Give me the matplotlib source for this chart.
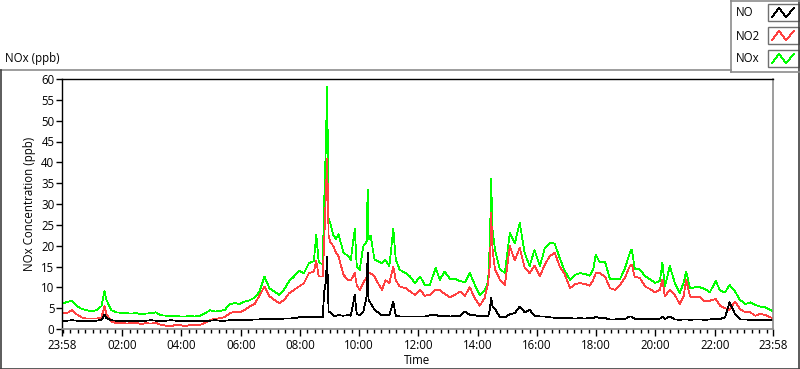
import matplotlib
matplotlib.use("Agg")
import matplotlib.pyplot as plt
from matplotlib.lines import Line2D
from matplotlib.patches import Rectangle
import numpy as np

plt.rcParams['font.family'] = ['Open Sans', 'DejaVu Sans']

# ---------------- data (minutes after 23:58, ppb) ----------------
time_a = [0, 10, 20, 30, 40, 50, 60, 70, 80, 86, 90, 100, 110, 120, 130, 140, 150, 160, 170,
          180, 190, 200, 210, 220, 230, 240, 250, 260, 270, 280, 290, 300, 310, 320, 330, 340, 350, 360]
nox_a = [6.0, 6.5, 6.8, 5.5, 4.8, 4.5, 4.3, 4.5, 5.5, 9.2, 7.0, 4.5, 4.0, 3.9, 3.8, 3.7, 3.8, 3.6, 3.7,
         3.8, 4.0, 3.3, 3.2, 3.1, 3.2, 3.0, 3.0, 3.1, 3.0, 3.2, 3.8, 4.5, 4.2, 4.3, 4.6, 6.0, 6.2, 6.0]
no2_a = [4.0, 3.8, 4.5, 3.5, 2.8, 2.5, 2.5, 2.5, 2.8, 5.5, 3.5, 1.8, 1.4, 1.5, 1.3, 1.4, 1.5, 1.2, 1.4,
         1.3, 1.5, 1.0, 0.8, 0.6, 1.0, 0.9, 0.7, 1.0, 0.9, 1.0, 1.5, 2.2, 2.4, 2.6, 2.9, 3.8, 4.2, 4.0]
no_a = [2.0, 2.0, 2.1, 2.0, 2.0, 1.9, 2.0, 2.0, 2.2, 3.4, 2.6, 2.1, 2.0, 2.0, 2.0, 2.0, 2.0, 2.0, 2.0,
        2.1, 2.0, 2.0, 2.0, 2.1, 2.0, 2.0, 2.0, 2.0, 2.0, 2.0, 2.0, 2.0, 2.1, 2.0, 2.0, 2.1, 2.1, 2.2]

time_b = [370, 380, 390, 400, 410, 420, 430, 440, 450, 460, 470, 480, 490, 500, 510,
          515, 520, 528, 531, 534, 537, 540, 543, 550, 555, 560, 570, 580, 585,
          593, 597, 603, 610, 617, 619, 621, 625, 633, 640, 648, 655, 663, 671, 676,
          684, 690, 697, 705, 715, 725]
nox_b = [6.6, 6.9, 7.5, 9.0, 12.6, 9.8, 9.0, 8.2, 9.5, 11.5, 12.6, 14.0, 13.4, 15.8, 16.3,
         22.6, 16.0, 15.5, 30.4, 42.4, 58.1, 26.3, 25.5, 22.4, 21.6, 22.8, 18.3, 17.5, 16.6,
         24.0, 15.0, 14.2, 19.8, 21.0, 33.5, 21.6, 22.4, 16.6, 16.3, 15.8, 16.6, 15.0, 24.0, 16.6,
         14.2, 13.8, 13.4, 12.6, 11.0, 12.6]
no2_b = [4.6, 5.4, 6.0, 8.0, 10.2, 7.9, 7.0, 6.2, 7.0, 8.6, 9.4, 10.2, 11.0, 13.4, 13.8,
         16.3, 12.6, 12.6, 20.8, 31.2, 40.8, 22.4, 21.0, 19.8, 18.3, 17.5, 13.0, 11.7, 11.7,
         13.4, 10.5, 9.4, 11.0, 12.5, 15.0, 13.4, 13.4, 12.6, 11.0, 9.4, 11.7, 11.0, 15.0, 11.7,
         10.2, 10.0, 9.8, 9.0, 8.2, 9.4]
no_b = [2.2, 2.2, 2.3, 2.3, 2.4, 2.3, 2.4, 2.4, 2.5, 2.5, 2.6, 2.8, 2.8, 2.8, 2.9,
        3.0, 2.8, 2.9, 9.0, 11.0, 17.3, 4.0, 4.0, 3.2, 3.2, 3.3, 3.2, 3.3, 3.2,
        8.2, 3.5, 3.4, 4.0, 7.8, 18.3, 7.0, 6.2, 4.6, 4.0, 3.3, 3.3, 3.3, 6.6, 3.2,
        3.0, 3.0, 3.0, 3.0, 3.0, 3.0]

time_c = [735, 745, 757, 765, 775, 786, 796, 806, 816, 826,
          836, 846, 856, 863, 867, 869, 872, 877, 887, 897,
          907, 917, 927, 937, 947, 957, 968, 978, 988, 998,
          1008, 1018, 1029, 1039, 1049, 1059, 1069, 1076, 1081, 1089]
nox_c = [10.6, 10.6, 14.7, 11.8, 13.8, 12.0, 12.0, 11.5, 11.2, 13.5,
         10.6, 8.2, 9.2, 11.4, 22.3, 36.0, 23.9, 19.0, 14.3, 13.5,
         23.1, 20.5, 25.5, 18.3, 15.1, 19.0, 15.1, 19.5, 20.7, 20.5,
         17.0, 14.0, 11.8, 13.0, 13.4, 13.2, 12.8, 14.3, 17.9, 16.0]
no2_c = [8.0, 8.2, 9.4, 9.4, 8.4, 7.6, 8.2, 9.0, 8.0, 10.0,
         7.4, 5.6, 7.4, 11.0, 15.9, 27.9, 19.1, 14.3, 11.8, 10.6,
         19.9, 16.5, 19.5, 14.8, 13.4, 15.2, 12.7, 15.5, 17.5, 18.3,
         15.0, 13.2, 9.8, 10.8, 11.0, 10.8, 10.4, 11.8, 13.4, 13.4]
no_c = [3.0, 3.3, 3.4, 3.0, 3.2, 3.0, 3.1, 3.0, 4.2, 3.4,
        3.3, 3.0, 3.2, 3.0, 5.0, 7.5, 5.4, 4.8, 2.8, 2.8,
        3.6, 3.8, 5.4, 4.0, 4.6, 3.2, 3.0, 3.0, 2.8, 2.7,
        2.6, 2.6, 2.6, 2.5, 2.6, 2.5, 2.7, 2.6, 3.0, 2.6]

time_d = [1100, 1110, 1120, 1130, 1140, 1150, 1154, 1160, 1170, 1181,
          1191, 1201, 1211, 1216, 1221, 1231, 1241, 1251, 1259, 1264,
          1272, 1282, 1292, 1302, 1312, 1324, 1333, 1343, 1352, 1363,
          1373, 1384, 1394, 1404, 1414, 1424, 1434, 1440]
nox_d = [16.0, 11.9, 12.0, 11.9, 14.5, 18.3, 19.1, 14.5, 14.3, 12.7,
         11.9, 11.1, 11.5, 15.9, 10.2, 15.1, 11.1, 8.6, 11.1, 13.8,
         9.8, 10.0, 10.0, 9.6, 8.8, 11.5, 9.2, 8.8, 10.6, 9.0,
         7.0, 6.0, 6.4, 5.8, 5.4, 5.2, 4.6, 4.2]
no2_d = [12.5, 9.8, 9.4, 10.5, 12.3, 15.1, 15.5, 12.5, 12.3, 10.2,
         9.6, 8.8, 9.4, 11.9, 7.8, 9.4, 8.2, 6.0, 7.8, 11.9,
         7.8, 7.6, 7.6, 6.6, 6.8, 7.2, 5.6, 5.0, 4.6, 6.6,
         4.8, 4.0, 4.0, 3.2, 3.6, 3.4, 2.8, 2.6]
no_d = [2.6, 2.3, 2.3, 2.4, 2.4, 3.0, 3.0, 2.4, 2.4, 2.3,
        2.4, 2.3, 2.5, 3.0, 2.4, 3.0, 2.3, 2.2, 2.3, 2.3,
        2.2, 2.3, 2.3, 2.2, 2.3, 2.4, 2.4, 2.8, 6.4, 3.6,
        2.3, 2.3, 2.2, 2.2, 2.2, 2.2, 2.2, 2.2]

series_names = ["NO", "NO2", "NOx"]
series_colors = ["#000000", "#ff4040", "#00ff00"]
x_tick_labels = ["23:58", "02:00", "04:00", "06:00", "08:00", "10:00", "12:00",
                 "14:00", "16:00", "18:00", "20:00", "22:00", "23:58"]
y_ticks = list(range(0, 61, 5))

# ---------------- assemble ----------------
times = [time_a, time_b, time_c, time_d]
segs = {
    "NO": [no_a, no_b, no_c, no_d],
    "NO2": [no2_a, no2_b, no2_c, no2_d],
    "NOx": [nox_a, nox_b, nox_c, nox_d],
}

def series(name):
    ts, vs = [], []
    for t, v in zip(times, segs[name]):
        n = min(len(t), len(v))
        ts.extend(t[:n]); vs.extend(v[:n])
    return np.array(ts, float), np.array(vs, float)

W, H = 800, 369
fig = plt.figure(figsize=(W / 100, H / 100), dpi=100)
fig.patch.set_facecolor("white")

def fx(px):
    return px / W

def fy(py):
    return 1 - py / H

L, R, T, B = 62, 773, 79, 329
ax = fig.add_axes([fx(L), fy(B), (R - L) / W, (B - T) / H])

LW = 0.55
for name in ["NOx", "NO2", "NO"]:
    t, v = series(name)
    c = series_colors[series_names.index(name)]
    ax.plot(t, v, color=c, lw=LW, antialiased=False)

ax.set_xlim(0, 1440)
ax.set_ylim(0, 60)
ax.set_yticks(y_ticks)
ax.set_yticklabels([str(v) for v in y_ticks])

start = 23 * 60 + 58
def pos(lbl, i):
    h, m = map(int, lbl.split(":"))
    p = (h * 60 + m - start) % 1440
    if i == len(x_tick_labels) - 1:
        p = 1440
    return p
xt = [pos(l, i) for i, l in enumerate(x_tick_labels)]
ax.set_xticks(xt)
ax.set_xticklabels(x_tick_labels)
minor = [m for m in range(2, 1440, 15) if m not in xt]
ax.set_xticks(minor, minor=True)

fs = 8.3
ax.tick_params(axis="y", direction="out", length=4, width=1, pad=1.5, labelsize=fs, colors="black")
ax.tick_params(axis="x", which="major", direction="out", length=5, width=1, pad=2, labelsize=fs)
ax.tick_params(axis="x", which="minor", direction="out", length=3, width=1)

for s in ["left", "top"]:
    ax.spines[s].set_color("black")
    ax.spines[s].set_linewidth(1)
for s in ["right", "bottom"]:
    ax.spines[s].set_color("#8c8c8c")
    ax.spines[s].set_linewidth(1.2)

ax.set_ylabel("NOx Concentration (ppb)", fontsize=fs, labelpad=4)
ax.set_xlabel("Time", fontsize=fs, labelpad=2)

# outer frame
frame_col = "#8c8c8c"
fig.add_artist(Line2D([fx(0), fx(731)], [fy(69.5), fy(69.5)], transform=fig.transFigure, color=frame_col, lw=1.2))
fig.add_artist(Line2D([fx(0.5), fx(0.5)], [fy(69.5), fy(368.5)], transform=fig.transFigure, color="#404040", lw=1.2))
fig.add_artist(Line2D([fx(0), fx(800)], [fy(368.5), fy(368.5)], transform=fig.transFigure, color="#404040", lw=1.2))
fig.add_artist(Line2D([fx(799.3), fx(799.3)], [fy(0), fy(369)], transform=fig.transFigure, color="#404040", lw=1.2))

# title
fig.text(fx(5), fy(62), "NOx (ppb)", fontsize=fs, ha="left", va="baseline")

# legend box
fig.add_artist(Line2D([fx(730.5), fx(730.5)], [fy(0), fy(72)], transform=fig.transFigure, color=frame_col, lw=1.2))
fig.add_artist(Line2D([fx(730.5), fx(800)], [fy(71.5), fy(71.5)], transform=fig.transFigure, color=frame_col, lw=1.2))
fig.add_artist(Line2D([fx(730.5), fx(800)], [fy(0.5), fy(0.5)], transform=fig.transFigure, color=frame_col, lw=1.2))

box_tops = [4, 27, 50]
for name, c, top in zip(series_names, series_colors, box_tops):
    bx0, bx1, by0, by1 = 768, 798.5, top, top + 17
    fig.add_artist(Rectangle((fx(bx0), fy(by1)), (bx1 - bx0) / W, (by1 - by0) / H,
                             transform=fig.transFigure, facecolor="white",
                             edgecolor="#707070", lw=1.0))
    zx = [bx0 + 4, bx0 + 11, bx0 + 18, bx0 + 26]
    zy = [by1 - 4, by0 + 4, by1 - 4, by0 + 4]
    fig.add_artist(Line2D([fx(v) for v in zx], [fy(v) for v in zy], transform=fig.transFigure,
                          color=c, lw=LW, antialiased=False))
    fig.text(fx(736), fy(top + 9), name, fontsize=fs, ha="left", va="center")

fig.savefig("out.png", dpi=100)
